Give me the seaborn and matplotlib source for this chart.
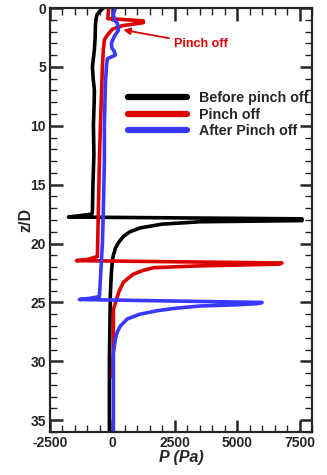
import matplotlib
matplotlib.use("Agg")
import matplotlib.pyplot as plt
import seaborn as sns
import pandas as pd
from matplotlib.ticker import MultipleLocator
from matplotlib.lines import Line2D

# ---- data ----
labels = ["Before pinch off", "Pinch off", "After Pinch off"]

before_z = [0, 0.3, 0.6, 1.0, 1.5, 2.5, 3.5, 5.0, 6.0, 7.0, 8.0, 10.0, 12.5, 15.0,
            17.3, 17.5, 17.75, 17.9, 18.05, 18.15, 18.35, 18.67, 19.0, 19.4, 19.9,
            20.4, 21.0, 21.4, 22.5, 24.2, 27.0, 30.0, 36.0]
before_p = [-360, -520, -620, -660, -680, -690, -720, -800, -770, -720, -730, -760,
            -740, -780, -800, -820, -1760, 7600, 7600, 3520, 2000, 1120, 700, 440,
            250, 120, 40, 0, -40, -80, -100, -120, -120]

pinch_z = [0, 0.5, 0.9, 1.0, 1.1, 1.25, 1.5, 1.8, 2.0, 2.3, 2.7, 3.5, 5.0, 7.5,
           10.0, 12.9, 15.0, 18.0, 21.1, 21.35, 21.45, 21.65, 21.75, 21.9, 22.05,
           22.3, 22.6, 23.0, 23.3, 24.0, 24.5, 25.6, 27.0, 29.0, 31.3]
pinch_p = [-150, -170, -180, 600, 1240, 1240, 400, 0, -80, -200, -320, -360, -400,
           -440, -480, -520, -540, -570, -600, -1000, -1440, 6800, 6700, 3400, 1640,
           1200, 840, 600, 440, 280, 200, 40, 40, 40, 0]

after_z = [0, 0.5, 1.0, 1.3, 1.9, 2.4, 3.0, 3.4, 3.7, 4.0, 4.3, 5.0, 6.4, 10.0, 12.9,
           17.0, 20.0, 24.5, 24.65, 24.75, 25.0, 25.1, 25.2, 25.3, 25.5, 25.7, 26.0,
           26.4, 27.0, 27.5, 28.1, 29.3, 32.0, 36.0]
after_p = [120, 40, 80, 200, 240, 80, -40, -20, 80, 120, -200, -240, -280, -320,
           -320, -360, -400, -520, -900, -1320, 6000, 5800, 5000, 3520, 2500, 1800,
           1100, 600, 320, 200, 120, 40, 40, 40]

colors = ["#000000", "#dd0000", "#3838ff"]

frames = []
for lab, zs, ps in zip(labels, [before_z, pinch_z, after_z], [before_p, pinch_p, after_p]):
    frames.append(pd.DataFrame({"z": zs, "P": ps, "series": lab}))
df = pd.concat(frames, ignore_index=True)

# ---- plotting ----
sns.set_style("ticks")
plt.rcParams["font.family"] = ["Liberation Sans", "DejaVu Sans"]
plt.rcParams["font.weight"] = "bold"
plt.rcParams["axes.unicode_minus"] = False

fig = plt.figure(figsize=(3.27, 4.75), dpi=100)
ax = fig.add_axes([50 / 327, 1 - 432 / 475, 262 / 327, 424 / 475])

sns.lineplot(data=df, x="P", y="z", hue="series", hue_order=labels,
             palette=colors, sort=False, estimator=None, units="series",
             linewidth=2.6, ax=ax, legend=False)

ax.set_xlim(-2500, 8000)
ax.set_ylim(36, 0)
ax.xaxis.set_major_locator(MultipleLocator(2500))
ax.xaxis.set_minor_locator(MultipleLocator(500))
ax.yaxis.set_major_locator(MultipleLocator(5))
ax.yaxis.set_minor_locator(MultipleLocator(1))
ax.tick_params(which="both", direction="in", top=True, right=True,
               labelsize=10, pad=3)
ax.tick_params(which="major", length=9, width=1.8)
ax.tick_params(which="minor", length=5, width=1.0)
for lbl in ax.get_xticklabels() + ax.get_yticklabels():
    lbl.set_fontweight("bold")
for s in ax.spines.values():
    s.set_linewidth(1.6)

ax.set_xlabel("P (Pa)", fontsize=11.5, fontweight="bold", fontstyle="italic", labelpad=0)
ax.set_ylabel("z/D", fontsize=11.5, fontweight="bold", labelpad=-2)

handles = [Line2D([], [], color=c, linewidth=4.5) for c in colors]
leg = ax.legend(handles, labels, loc="upper left", bbox_to_anchor=(0.27, 0.82),
                frameon=False, fontsize=10.3, handlelength=4.1, handletextpad=0.85,
                labelspacing=0.15, borderpad=0)
for t in leg.get_texts():
    t.set_fontweight("bold")

ax.annotate("Pinch off", xy=(440, 1.86), xytext=(2450, 3.05),
            color="#dd0000", fontsize=9, fontweight="bold", ha="left", va="center",
            arrowprops=dict(arrowstyle="-|>", color="#dd0000", lw=1.3,
                            mutation_scale=10, shrinkA=1, shrinkB=0))

fig.savefig("out.png", dpi=100)
